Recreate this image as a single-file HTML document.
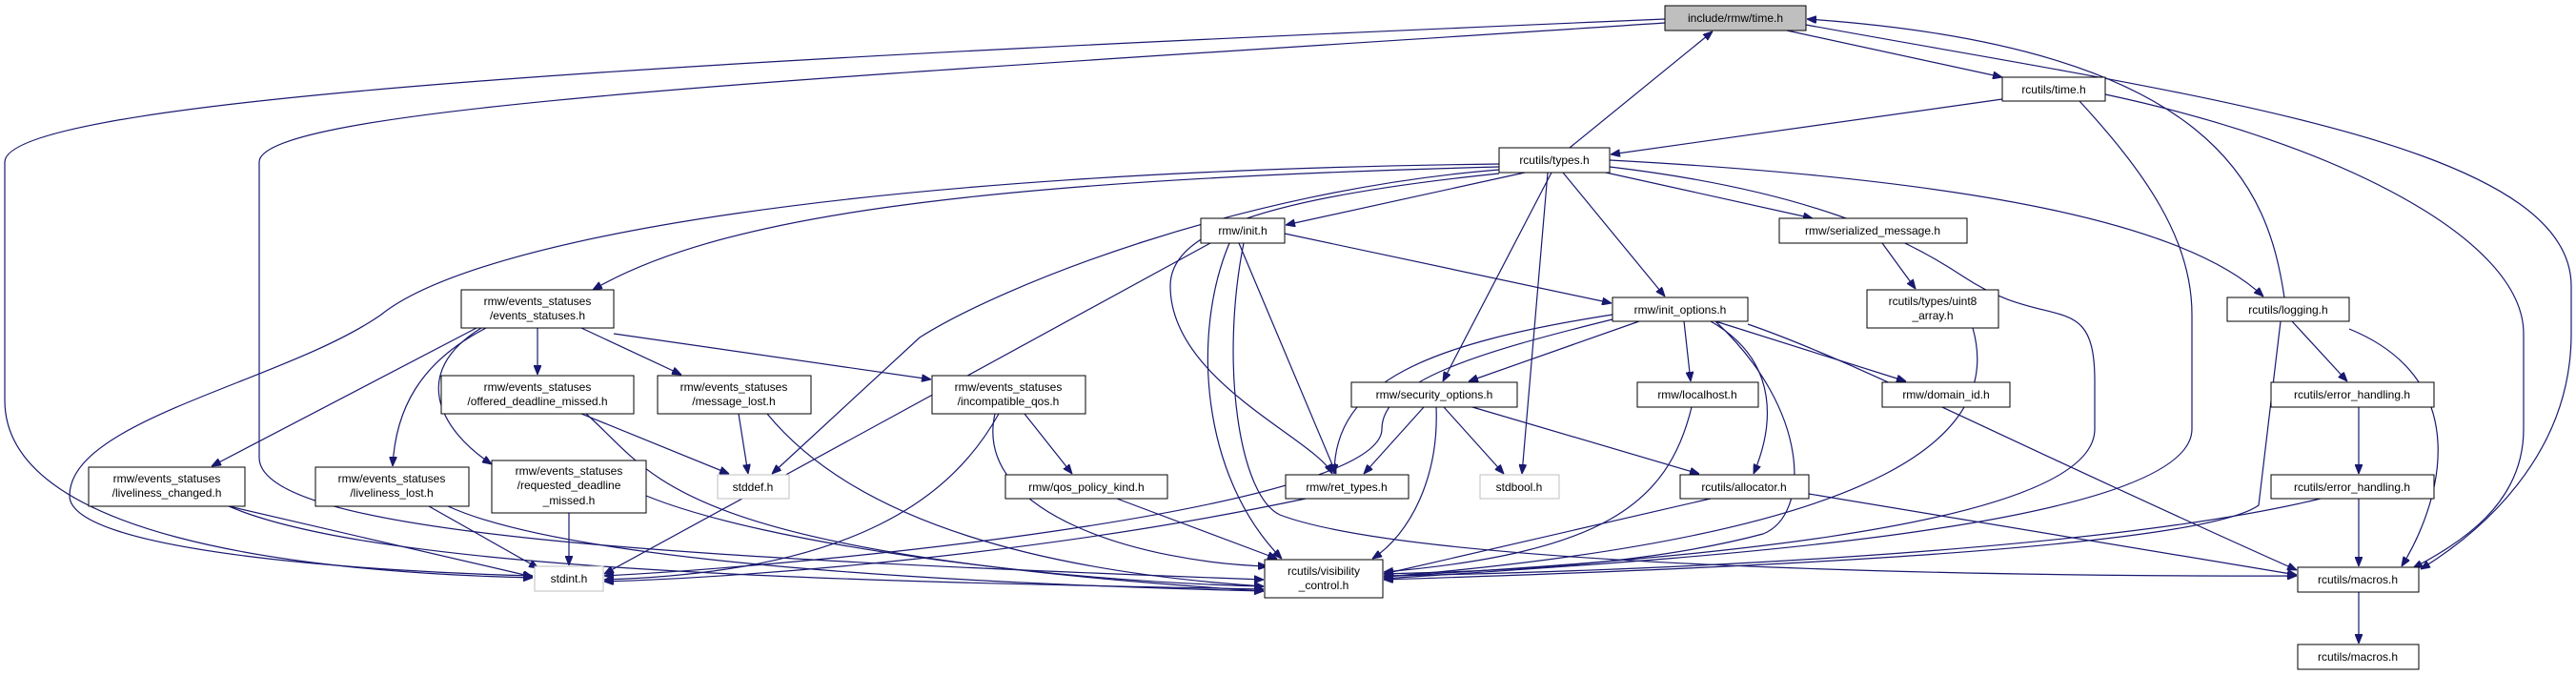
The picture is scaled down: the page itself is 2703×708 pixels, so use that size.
<!DOCTYPE html>
<html><head><meta charset="utf-8"><style>
html,body{margin:0;padding:0;background:#fff;}
svg{display:block;}
text{font-family:"Liberation Sans","DejaVu Sans",sans-serif;font-size:12px;fill:#000;}
.e{fill:none;stroke:#191970;stroke-width:1.2;}
.n{fill:#fff;stroke:#000;stroke-width:1;}
.g{fill:#fff;stroke:#bfbfbf;stroke-width:1;}
</style></head><body>
<svg width="2703" height="708" viewBox="0 0 2703 708" xmlns="http://www.w3.org/2000/svg">
<defs><marker id="a" markerWidth="10" markerHeight="8" refX="10" refY="4" orient="auto" markerUnits="userSpaceOnUse"><path d="M0,0 L10,4 L0,8 z" fill="#191970" stroke="#191970"/></marker></defs>
<g marker-end="url(#a)">
<path class="e" d="M1747,20 C800,60 5,100 5,170 L5,420 C5,560 300,600 559,606"/>
<path class="e" d="M1747,24 C900,80 272,110 272,170 L272,480 C272,560 700,585 1326,608"/>
<path class="e" d="M1875,32 L2101,81"/>
<path class="e" d="M1895,26 C2300,100 2698,150 2698,300 L2698,350 C2698,480 2600,560 2540,597"/>
<path class="e" d="M1647,155 L1797,33"/>
<path class="e" d="M2397,312 C2380,200 2330,50 1896,20"/>
<path class="e" d="M2101,104 L1690,162"/>
<path class="e" d="M2182,106 C2250,180 2300,250 2300,330 L2300,450 C2300,560 1700,590 1452,607"/>
<path class="e" d="M2209,99 C2450,150 2648,250 2648,350 L2648,450 C2648,530 2580,570 2532,596"/>
<path class="e" d="M1573,175 C1000,190 750,230 622,304"/>
<path class="e" d="M1573,172 C900,180 500,250 400,330 C300,400 73,440 73,520 C73,580 400,600 559,604"/>
<path class="e" d="M1573,178 C1300,200 1050,300 965,354 L810,497"/>
<path class="e" d="M1600,181 L1349,236"/>
<path class="e" d="M1573,182 C1300,210 1228,250 1228,300 C1228,400 1380,460 1398,497"/>
<path class="e" d="M1685,181 L1902,229"/>
<path class="e" d="M1640,181 L1747,311"/>
<path class="e" d="M1628,181 L1514,400"/>
<path class="e" d="M1624,181 L1597,497"/>
<path class="e" d="M1689,175 C1900,200 2000,250 2060,290 C2150,350 2198,300 2198,400 L2198,450 C2198,560 1700,590 1452,605"/>
<path class="e" d="M1689,168 C2100,190 2300,240 2375,311"/>
<path class="e" d="M1348,245 L1691,318"/>
<path class="e" d="M1270,255 L634,602"/>
<path class="e" d="M1300,255 L1402,497"/>
<path class="e" d="M1290,255 C1250,350 1260,500 1345,586"/>
<path class="e" d="M1305,255 C1280,380 1300,520 1343,540 C1500,600 2200,605 2410,604"/>
<path class="e" d="M500,344 L222,489"/>
<path class="e" d="M510,344 C440,380 415,430 412,489"/>
<path class="e" d="M564,344 L564,393"/>
<path class="e" d="M610,344 L715,393"/>
<path class="e" d="M644,350 L977,398"/>
<path class="e" d="M505,344 C430,390 460,450 516,487"/>
<path class="e" d="M610,434 L765,497"/>
<path class="e" d="M615,434 C690,500 700,580 1326,620"/>
<path class="e" d="M775,434 L785,497"/>
<path class="e" d="M805,434 C900,550 1100,600 1326,615"/>
<path class="e" d="M1048,434 C1000,520 900,600 634,608"/>
<path class="e" d="M1044,434 C1020,540 1200,590 1330,594"/>
<path class="e" d="M1075,434 L1125,497"/>
<path class="e" d="M1172,523 L1340,586"/>
<path class="e" d="M240,531 L559,605"/>
<path class="e" d="M240,531 C400,600 900,610 1326,618"/>
<path class="e" d="M450,531 L565,596"/>
<path class="e" d="M470,531 C600,590 1000,612 1326,620"/>
<path class="e" d="M597,538 L597,593"/>
<path class="e" d="M678,520 C800,570 1100,610 1326,615"/>
<path class="e" d="M1370,523 C1100,580 800,605 634,610"/>
<path class="e" d="M1720,337 L1541,400"/>
<path class="e" d="M1692,330 C1500,360 1400,400 1400,497"/>
<path class="e" d="M1767,337 L1774,400"/>
<path class="e" d="M1800,337 L2000,400"/>
<path class="e" d="M1795,337 C1870,380 1860,450 1840,497"/>
<path class="e" d="M1800,337 C1900,430 1900,540 1850,560 C1700,600 1500,600 1452,602"/>
<path class="e" d="M1692,335 C1550,370 1450,400 1450,450 C1450,530 900,590 634,604"/>
<path class="e" d="M1834,340 C1950,380 2100,460 2410,598"/>
<path class="e" d="M1494,427 L1431,497"/>
<path class="e" d="M1515,427 L1578,497"/>
<path class="e" d="M1545,427 L1783,497"/>
<path class="e" d="M1507,427 C1510,500 1480,560 1440,586"/>
<path class="e" d="M1775,427 C1750,530 1680,580 1452,600"/>
<path class="e" d="M1795,523 L1452,602"/>
<path class="e" d="M1898,518 L2410,603"/>
<path class="e" d="M2070,344 C2100,450 2000,560 1452,605"/>
<path class="e" d="M2405,337 L2463,400"/>
<path class="e" d="M2393,337 L2370,530 C2300,580 1700,600 1452,608"/>
<path class="e" d="M2465,345 C2600,400 2560,530 2520,594"/>
<path class="e" d="M2475,427 L2475,497"/>
<path class="e" d="M2435,523 C2200,580 1700,600 1452,604"/>
<path class="e" d="M2475,523 L2475,594"/>
<path class="e" d="M2475,621 L2475,675"/>
<path class="e" d="M1975,255 L2010,303"/>
</g>
<g>
<rect x="1747" y="6" width="148" height="26" fill="#bfbfbf" stroke="#000"/><text x="1821" y="23" text-anchor="middle">include/rmw/time.h</text>
<rect class="n" x="2101" y="81" width="108" height="25"/><text x="2155" y="98" text-anchor="middle">rcutils/time.h</text>
<rect class="n" x="1573" y="155" width="116" height="26"/><text x="1631" y="172" text-anchor="middle">rcutils/types.h</text>
<rect class="n" x="1260" y="229" width="88" height="26"/><text x="1304" y="246" text-anchor="middle">rmw/init.h</text>
<rect class="n" x="484" y="304" width="160" height="40"/><text x="564" y="320" text-anchor="middle">rmw/events_statuses</text><text x="564" y="335" text-anchor="middle">/events_statuses.h</text>
<rect class="n" x="1867" y="229" width="197" height="26"/><text x="1965" y="246" text-anchor="middle">rmw/serialized_message.h</text>
<rect class="n" x="1692" y="312" width="142" height="25"/><text x="1763" y="329" text-anchor="middle">rmw/init_options.h</text>
<rect class="n" x="1959" y="304" width="138" height="40"/><text x="2028" y="320" text-anchor="middle">rcutils/types/uint8</text><text x="2028" y="335" text-anchor="middle">_array.h</text>
<rect class="n" x="2337" y="312" width="128" height="25"/><text x="2401" y="329" text-anchor="middle">rcutils/logging.h</text>
<rect class="n" x="463" y="394" width="202" height="40"/><text x="564" y="410" text-anchor="middle">rmw/events_statuses</text><text x="564" y="425" text-anchor="middle">/offered_deadline_missed.h</text>
<rect class="n" x="690" y="394" width="161" height="40"/><text x="770" y="410" text-anchor="middle">rmw/events_statuses</text><text x="770" y="425" text-anchor="middle">/message_lost.h</text>
<rect class="n" x="978" y="394" width="161" height="40"/><text x="1058" y="410" text-anchor="middle">rmw/events_statuses</text><text x="1058" y="425" text-anchor="middle">/incompatible_qos.h</text>
<rect class="n" x="1418" y="401" width="174" height="26"/><text x="1505" y="418" text-anchor="middle">rmw/security_options.h</text>
<rect class="n" x="1718" y="401" width="127" height="26"/><text x="1781" y="418" text-anchor="middle">rmw/localhost.h</text>
<rect class="n" x="1975" y="401" width="134" height="26"/><text x="2042" y="418" text-anchor="middle">rmw/domain_id.h</text>
<rect class="n" x="2383" y="401" width="171" height="26"/><text x="2468" y="418" text-anchor="middle">rcutils/error_handling.h</text>
<rect class="n" x="93" y="490" width="164" height="41"/><text x="175" y="506" text-anchor="middle">rmw/events_statuses</text><text x="175" y="521" text-anchor="middle">/liveliness_changed.h</text>
<rect class="n" x="331" y="490" width="161" height="41"/><text x="411" y="506" text-anchor="middle">rmw/events_statuses</text><text x="411" y="521" text-anchor="middle">/liveliness_lost.h</text>
<rect class="n" x="516" y="483" width="162" height="55"/><text x="597" y="498" text-anchor="middle">rmw/events_statuses</text><text x="597" y="513" text-anchor="middle">/requested_deadline</text><text x="597" y="529" text-anchor="middle">_missed.h</text>
<rect class="g" x="753" y="498" width="75" height="25"/><text x="790" y="515" text-anchor="middle">stddef.h</text>
<rect class="n" x="1055" y="498" width="170" height="25"/><text x="1140" y="515" text-anchor="middle">rmw/qos_policy_kind.h</text>
<rect class="n" x="1349" y="498" width="129" height="25"/><text x="1413" y="515" text-anchor="middle">rmw/ret_types.h</text>
<rect class="g" x="1553" y="498" width="83" height="25"/><text x="1594" y="515" text-anchor="middle">stdbool.h</text>
<rect class="n" x="1763" y="498" width="135" height="25"/><text x="1830" y="515" text-anchor="middle">rcutils/allocator.h</text>
<rect class="n" x="2383" y="498" width="171" height="25"/><text x="2468" y="515" text-anchor="middle">rcutils/error_handling.h</text>
<rect class="g" x="561" y="594" width="72" height="26"/><text x="597" y="611" text-anchor="middle">stdint.h</text>
<rect class="n" x="1327" y="587" width="124" height="40"/><text x="1389" y="603" text-anchor="middle">rcutils/visibility</text><text x="1389" y="618" text-anchor="middle">_control.h</text>
<rect class="n" x="2411" y="595" width="127" height="26"/><text x="2474" y="612" text-anchor="middle">rcutils/macros.h</text>
<rect class="n" x="2411" y="676" width="127" height="26"/><text x="2474" y="693" text-anchor="middle">rcutils/macros.h</text>
</g>
</svg>
</body></html>
